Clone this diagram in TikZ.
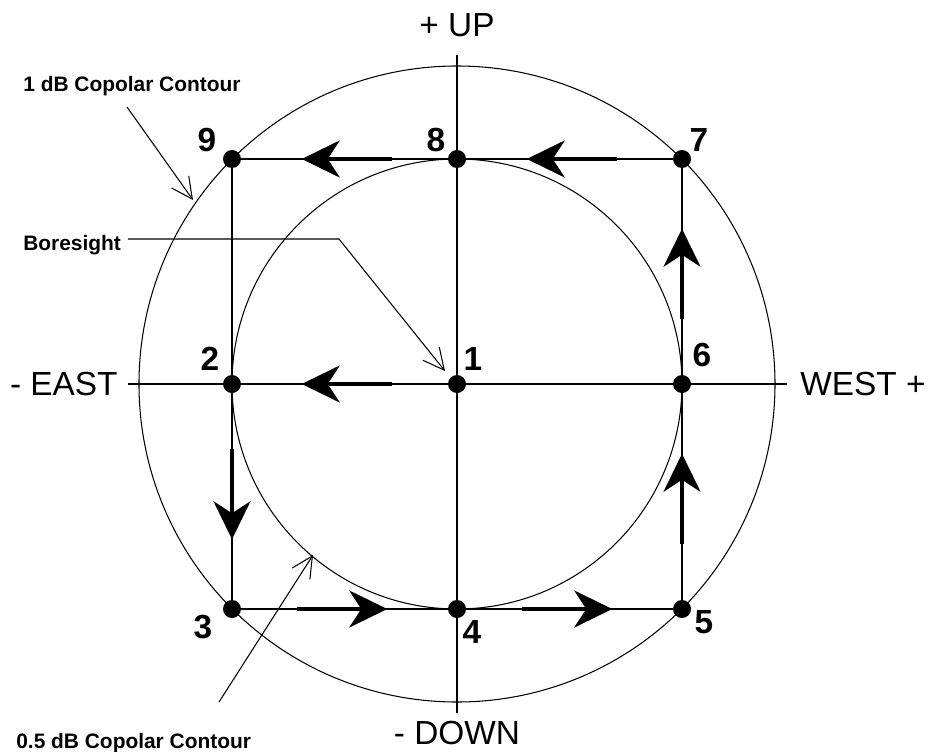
\documentclass[tikz,border=0pt]{standalone}
\usepackage{fontspec}
\setmainfont{Liberation Sans}
\usetikzlibrary{arrows.meta, positioning, calc}
\tikzset{
  contour/.style={line width=0.6pt},
  gridline/.style={line width=0.6pt},
  pointdot/.style={circle, fill=black, minimum size=0.36cm, inner sep=0pt},
  numlabel/.style={font=\fontsize{19}{19}\selectfont\bfseries, inner sep=0pt},
  axislabel/.style={font=\fontsize{19}{19}\selectfont, inner sep=0pt},
  notelabel/.style={font=\fontsize{11.9}{12}\selectfont\bfseries, inner sep=0pt},
  flowarrow/.style={-{Stealth[length=0.76cm, width=0.74cm, inset=0.24cm]}, line width=2.2pt},
  leader/.style={-{Straight Barb[length=0.42cm, width=0.42cm]}, line width=0.6pt}
}

\begin{document}
\begin{tikzpicture}[x=0.02cm, y=0.02cm]
  \useasboundingbox (-457,-367) rectangle (471,384);

  % Contours
  \draw[contour] (0,0) circle[radius=318];
  \draw[contour] (0,0) circle[radius=225];

  % Axes
  \coordinate (up) at (0,329);
  \coordinate (down) at (0,-329);
  \coordinate (east) at (-329,0);
  \coordinate (west) at (330,0);
  \draw[gridline] (up) -- (down);
  \draw[gridline] (east) -- (west);

  \node[axislabel, above=0.36cm of up] (uplbl) {+ UP};
  \node[axislabel, below=0.15cm of down] (downlbl) {- DOWN};
  \node[axislabel, left=0.2cm of east] (eastlbl) {- EAST};
  \node[axislabel, right=0.26cm of west] (westlbl) {WEST +};

  % Measurement points
  \foreach \n/\x/\y in {1/0/0, 2/-225/0, 3/-225/-225, 4/0/-225, 5/225/-225,
                        6/225/0, 7/225/225, 8/0/225, 9/-225/225}
    \coordinate (p\n) at (\x,\y);

  \draw[gridline] (p9) -- (p7) -- (p5) -- (p3) -- cycle;

  % Scan direction
  \foreach \a/\b in {1/2, 2/3, 3/4, 4/5, 5/6, 6/7, 7/8, 8/9}
    \draw[flowarrow] ($(p\a)!0.29!(p\b)$) -- ($(p\a)!0.69!(p\b)$);

  \foreach \n in {1,...,9}
    \node[pointdot] (d\n) at (p\n) {};

  \foreach \n/\dx/\dy in {1/16/25, 2/-22/25, 3/-29/-18, 4/15/-23, 5/22/-13,
                          6/20/29, 7/17/19, 8/-21/19, 9/-25/19}
    \node[numlabel] (n\n) at ([shift={(\dx,\dy)}]p\n) {\n};

  % Callouts
  \node[notelabel, anchor=base west] (copolone) at (-434,293) {1 dB Copolar Contour};
  \node[notelabel, anchor=base west] (bore) at (-434,134) {Boresight};
  \node[notelabel, anchor=base west] (copolhalf) at (-441,-364) {0.5 dB Copolar Contour};

  \coordinate (copolonefrom) at (-330,277);
  \coordinate (copoloneto) at (-264,184);
  \draw[leader] (copolonefrom) -- (copoloneto);

  \coordinate (borefrom) at (-329,145);
  \coordinate (borebend) at (-118,145);
  \coordinate (boreto) at (-12,13);
  \draw[leader] (borefrom) -- (borebend) -- (boreto);

  \coordinate (copolhalffrom) at (-238,-318);
  \coordinate (copolhalfto) at (-144,-171);
  \draw[leader] (copolhalffrom) -- (copolhalfto);
\end{tikzpicture}
\end{document}
